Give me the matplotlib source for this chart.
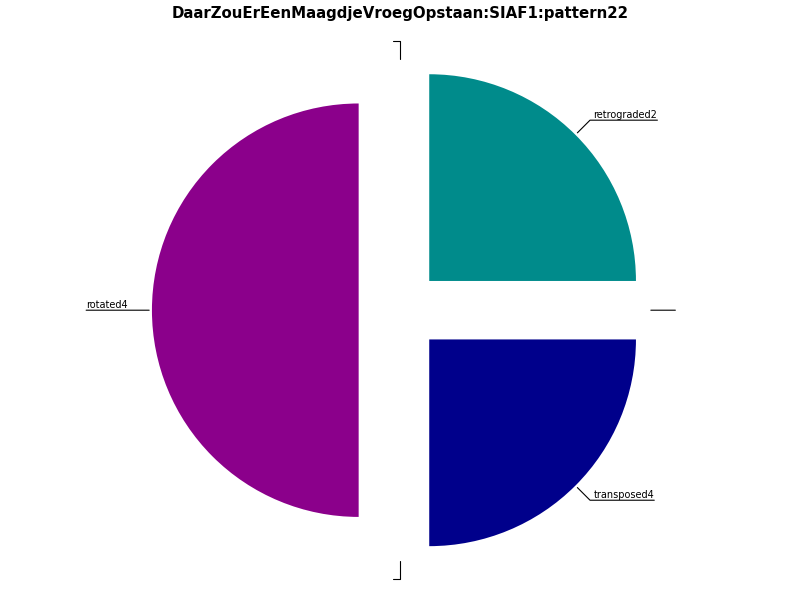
import numpy as np
import matplotlib
matplotlib.use("Agg")
import matplotlib.pyplot as plt
import matplotlib.transforms as mtransforms

title = "DaarZouErEenMaagdjeVroegOpstaan:SIAF1:pattern22"
labels = ["retrograded2", "", "transposed4", "", "rotated4", ""]
values = [25, 0, 25, 0, 50, 0]
colors = ["#008b8b", "#ffffff", "#00008b", "#ffffff", "#8b008b", "#ffffff"]

fig = plt.figure(figsize=(8, 6), dpi=100)
ax = fig.add_axes([0.177, 0.052, 0.646, 0.862])

wedges, _ = ax.pie(values, colors=colors, explode=[0.2] * len(values),
                   startangle=90, counterclock=False)

# connector from wedge edge out to the label, running under the text
for w, lab in zip(wedges, labels):
    ang = (w.theta1 + w.theta2) / 2
    x = np.cos(np.deg2rad(ang))
    y = np.sin(np.deg2rad(ang))
    right_side = round(x, 6) > 0
    ha = "left" if right_side else "right"
    if round(y, 6) == 0:
        conn = "arc3"
    else:
        conn = f"angle,angleA=0,angleB={ang}"
    # small gap between the elbow and the text
    shift = 0.035 if right_side else -0.035
    tc = ax.transData + mtransforms.ScaledTranslation(shift, 0, fig.dpi_scale_trans)
    ax.annotate(lab or " ", xy=(1.2 * x, 1.2 * y), xytext=(1.3 * x, 1.3 * y),
                textcoords=tc, ha=ha, va="bottom", fontsize=7,
                arrowprops=dict(arrowstyle="-", color="black", lw=0.8,
                                connectionstyle=conn,
                                relpos=(1 if right_side else 0, 0),
                                patchA=None, shrinkA=0, shrinkB=2))

fig.suptitle(title, fontsize=10.8, fontweight="bold", y=0.99)

fig.savefig("out.png", dpi=100)
